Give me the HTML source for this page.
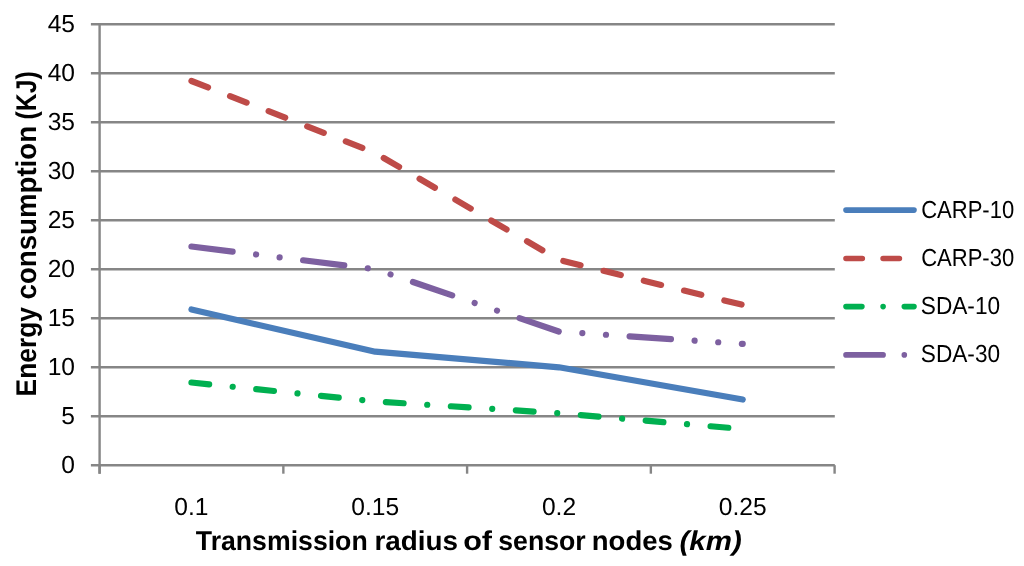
<!DOCTYPE html>
<html lang="en">
<head>
<meta charset="utf-8">
<title>Energy consumption vs transmission radius</title>
<style>
html,body{margin:0;padding:0;background:#fff;}
body{width:1024px;height:566px;overflow:hidden;}
svg{display:block;font-family:"Liberation Sans",Arial,sans-serif;text-rendering:geometricPrecision;}
.g line{stroke:#868686;stroke-width:2.4;}
.lab text{font-size:24.6px;fill:#000;}
.ser polyline,.leg line{fill:none;stroke-linecap:round;stroke-linejoin:round;}
.ser polyline{stroke-width:6.2;}
.leg line{stroke-width:5.6;}
.ttl text{font-weight:bold;font-size:27.2px;fill:#000;white-space:pre;}
</style>
</head>
<body>
<svg width="1024" height="566" viewBox="0 0 1024 566">
<rect width="1024" height="566" fill="#fff"/>
<g class="g">
<line x1="90.9" y1="465.20" x2="834.80" y2="465.20"/>
<line x1="90.9" y1="416.21" x2="834.80" y2="416.21"/>
<line x1="90.9" y1="367.22" x2="834.80" y2="367.22"/>
<line x1="90.9" y1="318.23" x2="834.80" y2="318.23"/>
<line x1="90.9" y1="269.24" x2="834.80" y2="269.24"/>
<line x1="90.9" y1="220.26" x2="834.80" y2="220.26"/>
<line x1="90.9" y1="171.27" x2="834.80" y2="171.27"/>
<line x1="90.9" y1="122.28" x2="834.80" y2="122.28"/>
<line x1="90.9" y1="73.29" x2="834.80" y2="73.29"/>
<line x1="90.9" y1="24.30" x2="834.80" y2="24.30"/>
<line x1="99.6" y1="23.10" x2="99.6" y2="473.7"/>
<line x1="99.60" y1="465.20" x2="99.60" y2="473.7"/>
<line x1="283.35" y1="465.20" x2="283.35" y2="473.7"/>
<line x1="467.10" y1="465.20" x2="467.10" y2="473.7"/>
<line x1="650.85" y1="465.20" x2="650.85" y2="473.7"/>
<line x1="834.60" y1="465.20" x2="834.60" y2="473.7"/>
</g>
<g class="ser">
<polyline points="191.47,309.50 375.23,351.70 558.98,367.30 742.73,399.50" stroke="#4a7ebb"/>
<polyline points="191.47,81.00 375.23,153.00 558.98,259.90 742.73,304.90" stroke="#be4b48" stroke-dasharray="17.76 23.68"/>
<polyline points="191.47,382.50 375.23,401.40 558.98,413.20 742.73,429.00" stroke="#00b050" stroke-dasharray="17.76 23.68 0.01 23.68"/>
<polyline points="191.47,246.50 375.23,269.20 558.98,331.60 742.73,343.90" stroke="#7d60a0" stroke-dasharray="41.44 23.68 0.01 23.68 0.01 23.68"/>
</g>
<g class="lab">
<text x="75.0" y="473.30" text-anchor="end">0</text>
<text x="75.0" y="424.31" text-anchor="end">5</text>
<text x="75.0" y="375.32" text-anchor="end">10</text>
<text x="75.0" y="326.33" text-anchor="end">15</text>
<text x="75.0" y="277.34" text-anchor="end">20</text>
<text x="75.0" y="228.36" text-anchor="end">25</text>
<text x="75.0" y="179.37" text-anchor="end">30</text>
<text x="75.0" y="130.38" text-anchor="end">35</text>
<text x="75.0" y="81.39" text-anchor="end">40</text>
<text x="75.0" y="32.40" text-anchor="end">45</text>
<text x="191.47" y="515.4" text-anchor="middle">0.1</text>
<text x="375.23" y="515.4" text-anchor="middle">0.15</text>
<text x="558.98" y="515.4" text-anchor="middle">0.2</text>
<text x="742.73" y="515.4" text-anchor="middle">0.25</text>
</g>
<g class="leg">
<line x1="846" y1="210.1" x2="914" y2="210.1" stroke="#4a7ebb"/>
<line x1="846" y1="258.5" x2="914" y2="258.5" stroke="#be4b48" stroke-dasharray="16.3 20.8"/>
<line x1="846" y1="306.6" x2="914" y2="306.6" stroke="#00b050" stroke-dasharray="15.90 21.20 0.01 21.20"/>
<line x1="846" y1="354.9" x2="914" y2="354.9" stroke="#7d60a0" stroke-dasharray="37.10 21.20 0.01 21.20 0.01 21.20"/>
</g>
<g class="lab">
<text x="921.20" y="218.00" textLength="93.00" lengthAdjust="spacingAndGlyphs">CARP-10</text>
<text x="921.20" y="266.30" textLength="93.00" lengthAdjust="spacingAndGlyphs">CARP-30</text>
<text x="920.80" y="314.10" textLength="79.30" lengthAdjust="spacingAndGlyphs">SDA-10</text>
<text x="920.80" y="362.30" textLength="79.30" lengthAdjust="spacingAndGlyphs">SDA-30</text>
</g>
<g class="ttl">
<text y="550.3"><tspan x="195.82" textLength="171.88" lengthAdjust="spacingAndGlyphs">Transmission</tspan> <tspan x="374.45" textLength="83.70" lengthAdjust="spacingAndGlyphs">radius</tspan> <tspan x="463.15" textLength="28.87" lengthAdjust="spacingAndGlyphs">of</tspan> <tspan x="498.30" textLength="87.38" lengthAdjust="spacingAndGlyphs">sensor</tspan> <tspan x="591.79" textLength="81.07" lengthAdjust="spacingAndGlyphs">nodes</tspan> <tspan x="679.45" textLength="62.30" lengthAdjust="spacingAndGlyphs" font-style="italic">(km)</tspan></text>
<text transform="translate(35.6 395.5) rotate(-90)" style="font-size:28.5px"><tspan x="-0.94" textLength="89.36" lengthAdjust="spacingAndGlyphs">Energy</tspan> <tspan x="96.11" textLength="173.42" lengthAdjust="spacingAndGlyphs">consumption</tspan> <tspan x="276.10" textLength="48.03" lengthAdjust="spacingAndGlyphs">(KJ)</tspan></text>
</g>
</svg>
</body>
</html>
